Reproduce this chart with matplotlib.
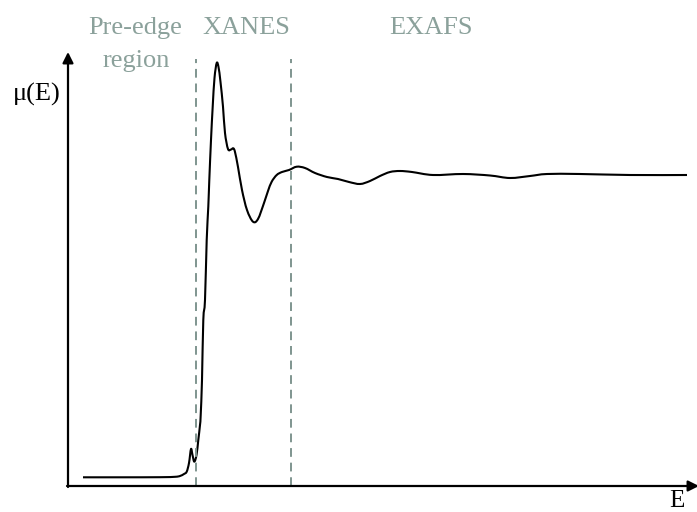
import matplotlib.pyplot as plt
from matplotlib.path import Path
from matplotlib.patches import PathPatch

plt.rcParams["font.family"] = ["Liberation Serif", "DejaVu Serif"]

# absorption spectrum (E in px-like units, mu above the E axis)
energy = [83, 120, 160, 175, 180, 184, 186.7, 189, 191, 192.5, 194.3, 196.5,
          198.3, 200, 200.7, 202, 203.3, 205, 206.7, 208.3, 209.3, 211, 212.7,
          214.5, 216.7, 218.5, 220.5, 223, 225, 228, 231, 233.3, 235, 238, 242,
          247, 253, 258, 264, 268, 271.7, 276.7, 282, 289, 296.7, 305, 315, 327,
          338, 349, 360, 370, 380, 390, 400, 412, 433, 463, 490, 510, 530, 547,
          580, 630, 687]
mu_px = [477.3, 477.3, 477.2, 476.8, 476, 474, 471.7, 463, 449, 455, 461.7, 455,
         440, 425, 415, 380, 320, 300, 240, 206.7, 180, 140, 106.7,
         78, 63, 67, 82, 106.7, 133, 149, 149.5, 148.3, 152, 167, 190,
         210, 221.7, 219, 203, 191, 181.7, 175, 172, 170, 166.7, 168, 173, 177,
         179, 182, 184, 181, 176, 172, 171, 172, 175, 174, 175.5, 178, 176, 174,
         174, 175, 175]
AXIS_Y = 486
mu = [AXIS_Y - v for v in mu_px]

region_edges = [195.7, 290.7]
region_labels = [("Pre-edge", 135.5, 34), ("region", 136, 67),
                 ("XANES", 246, 34), ("EXAFS", 431, 34)]

LABEL_COLOR = "#8ba19b"
DASH_COLOR = "#7f958f"


def smooth_path(xs, ys):
    # Catmull-Rom through the read points, drawn as cubic Bezier segments
    pts = list(zip(xs, ys))
    verts = [pts[0]]
    codes = [Path.MOVETO]
    for i in range(len(pts) - 1):
        p0 = pts[i - 1] if i > 0 else pts[i]
        p1, p2 = pts[i], pts[i + 1]
        p3 = pts[i + 2] if i + 2 < len(pts) else pts[i + 1]
        c1 = (p1[0] + (p2[0] - p0[0]) / 6, p1[1] + (p2[1] - p0[1]) / 6)
        c2 = (p2[0] - (p3[0] - p1[0]) / 6, p2[1] - (p3[1] - p1[1]) / 6)
        verts += [c1, c2, p2]
        codes += [Path.CURVE4] * 3
    return Path(verts, codes)


fig = plt.figure(figsize=(6.97, 5.12), dpi=100)
ax = fig.add_axes([0, 0, 1, 1])
ax.set_xlim(0, 697)
ax.set_ylim(-26, 486)
ax.axis("off")

# axes with arrow heads
arrow = dict(arrowstyle="-|>", color="black", lw=1.6, mutation_scale=16,
             shrinkA=0, shrinkB=0)
ax.annotate("", xy=(699, 0), xytext=(67, 0), arrowprops=arrow,
            annotation_clip=False)
ax.annotate("", xy=(68, AXIS_Y - 52), xytext=(68, -1), arrowprops=arrow,
            annotation_clip=False)

for x in region_edges:
    ax.plot([x, x], [0, AXIS_Y - 59], color=DASH_COLOR, lw=1.4,
            linestyle=(0, (4.5, 3)))

ax.add_patch(PathPatch(smooth_path(energy, mu), facecolor="none",
                       edgecolor="black", lw=1.5, joinstyle="round"))

for text, x, base in region_labels:
    ax.text(x, AXIS_Y - base, text, ha="center", va="baseline", fontsize=19,
            color=LABEL_COLOR)

ax.text(37, AXIS_Y - 101, "μ(E)", ha="center", va="baseline", fontsize=19)
ax.text(677, AXIS_Y - 507, "E", ha="center", va="baseline", fontsize=18,
        clip_on=False)

fig.savefig("out.png", dpi=100, facecolor="white")
